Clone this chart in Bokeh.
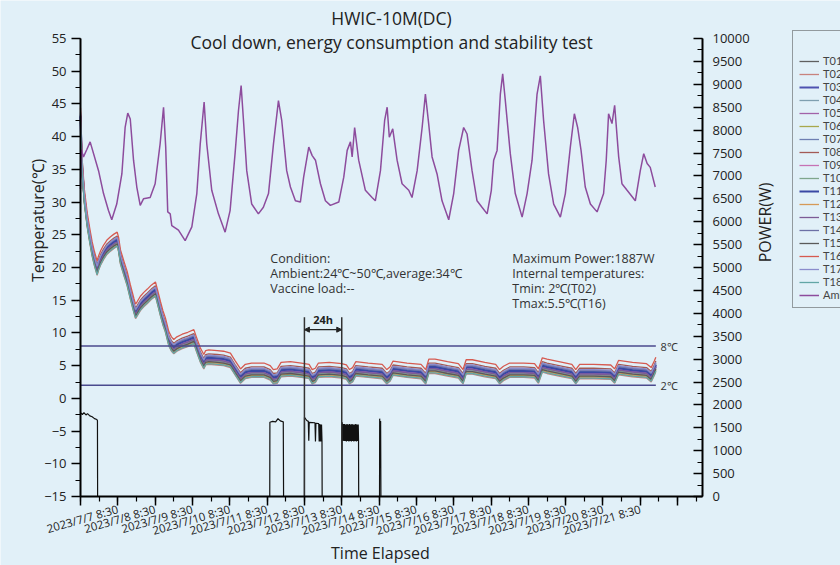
import math
from bokeh.plotting import figure
from bokeh.models import (Range1d, LinearAxis, SingleIntervalTicker, Legend, LegendItem,
                          Arrow, NormalHead)
from bokeh.core.properties import value
from bokeh.embed import file_html
from bokeh.resources import INLINE

FONT = "Open Sans"
BG = "#e1f0f8"

# ---------------- data (hours elapsed from start) ----------------
x_tick_hours = [24, 48, 72, 96, 120, 144, 168, 192, 216, 240, 264, 288, 312, 336, 360]
x_tick_labels = ["2023/7/7 8:30", "2023/7/8 8:30", "2023/7/9 8:30", "2023/7/10 8:30",
                 "2023/7/11 8:30", "2023/7/12 8:30", "2023/7/13 8:30", "2023/7/14 8:30",
                 "2023/7/15 8:30", "2023/7/16 8:30", "2023/7/17 8:30", "2023/7/18 8:30",
                 "2023/7/19 8:30", "2023/7/20 8:30", "2023/7/21 8:30"]

# ambient temperature (degC)
amb_h = [0, 0.5, 1.9, 4.0, 6.2, 11.6, 14.8, 18.0, 20.1, 23.3, 26.6, 28.7, 30.4, 32.0, 34.1, 36.2,
         38.4, 40.5, 44.8, 48.0, 51.2, 53.4, 54.8, 56.1, 57.7, 58.7, 63.0, 67.3, 71.6, 74.8, 77.0,
         79.5, 81.2, 84.4, 88.7, 93.0, 96.2, 99.4, 101.6, 103.3, 104.8, 106.9, 110.1, 114.4, 117.6,
         120.9, 124.1, 127.3, 129.4, 132.6, 135.0, 138.2, 141.4, 143.5, 146.8, 149.0, 151.1, 154.3,
         157.5, 160.7, 166.1, 169.3, 171.5, 173.6, 174.7, 176.3, 178.9, 183.2, 187.5, 189.6, 192.9,
         195.6, 197.2, 198.6, 200.8, 203.6, 206.8, 211.1, 213.2, 216.5, 219.7, 221.8, 223.9, 226.1,
         229.3, 232.5, 236.8, 240.0, 243.2, 246.4, 248.6, 251.8, 255.0, 258.2, 261.5, 264.2, 265.7,
         267.9, 270.0, 271.5, 273.2, 276.4, 279.6, 284.0, 287.2, 290.4, 293.6, 295.7, 297.8, 301.0,
         304.3, 308.6, 311.8, 315.0, 317.6, 319.7, 321.9, 324.6, 327.9, 332.2, 336.4, 338.1, 339.6,
         341.8, 343.5, 346.1, 348.2, 351.5, 356.8, 360.0, 362.2, 364.4, 366.4, 369.6]
amb_t = [32.0, 38.0, 36.9, 38.0, 39.2, 34.8, 31.3, 28.7, 27.3, 29.7, 34.3, 41.4, 43.6, 42.7, 36.4, 32.3,
         29.5, 30.5, 30.7, 32.8, 38.9, 44.5, 38.4, 28.5, 28.2, 26.4, 25.7, 24.1, 26.2, 31.3, 38.9,
         45.3, 38.9, 31.8, 28.2, 25.4, 28.7, 37.4, 44.0, 47.8, 42.5, 34.8, 29.7, 28.2, 29.2,
         31.3, 38.9, 45.5, 42.5, 34.8, 32.3, 30.2, 30.0, 33.8, 38.4, 37.1, 36.4, 32.8,
         30.2, 29.5, 30.0, 33.8, 37.9, 39.2, 36.9, 41.4, 36.4, 31.8, 30.7, 30.2, 34.8,
         42.5, 44.5, 39.9, 41.2, 36.4, 32.8, 31.8, 30.7, 34.8, 41.4, 46.5, 42.0, 36.9,
         34.3, 30.2, 27.3, 31.3, 37.9, 41.4, 40.4, 34.8, 30.2, 29.2, 28.2, 31.8, 36.4,
         37.9, 46.5, 49.6, 45.5, 37.4, 31.3, 27.7, 31.3, 36.4, 46.5, 49.3, 42.5, 34.3,
         29.7, 27.7, 31.3, 38.4, 43.5, 41.4, 37.9, 32.3, 29.7, 28.5, 31.3, 36.4, 43.5,
         42.0, 44.8, 36.9, 32.8, 31.8, 30.2, 34.8, 37.4, 35.9, 35.3, 32.3]

# internal probe temperature, middle of the probe band (degC)
band_h = [0, 0.5, 1.1, 2.5, 4.3, 6, 7.5, 9, 10.7, 11.5, 13, 14.8, 17, 19.3, 21.5, 23.6, 24.5, 25.7,
          28, 30, 32, 34.3, 35.4, 36.5, 38.5, 40.7, 43, 45.5, 48.2, 49.5, 51.4, 53, 54.6, 56.8,
          58.5, 60, 62, 65.4, 69, 72.9, 74.5, 77.1, 79.3, 80.5, 82.5, 87.9, 92, 96.4, 99.6, 102.9,
          106, 110, 118, 122, 124, 126.5, 129, 135, 142, 147, 149, 151, 153, 160, 168, 171, 173,
          175, 177, 185, 194, 197, 199, 201, 210, 219, 222, 224, 228, 236, 243, 246, 248, 252,
          260, 267, 269.5, 272, 276, 285, 292, 294.5, 297, 300, 310, 316, 318.5, 321, 330, 341,
          343.5, 346, 355, 364, 367, 369, 370]
band_t = [43, 39, 35, 30.5, 27, 24.5, 22.5, 21, 19.6, 20.3, 21.2, 22, 22.8, 23.3, 23.7, 24.0, 23.2, 21.3,
          19.5, 18.0, 16.0, 13.9, 13.0, 13.4, 14.2, 14.8, 15.3, 15.9, 16.4, 15.2, 13.4, 12.0, 10.9, 8.8,
          8.0, 7.6, 8.0, 8.4, 8.7, 9.1, 8.0, 6.3, 5.3, 5.9, 6.0, 5.9, 5.8, 5.5, 4.3, 3.1,
          3.8, 4.0, 4.0, 3.6, 3.0, 3.1, 4.1, 4.2, 4.0, 3.8, 3.0, 3.2, 4.0, 4.1, 3.9, 3.7, 3.0,
          3.3, 4.2, 4.0, 3.8, 3.0, 3.4, 4.3, 4.0, 3.8, 3.0, 4.6, 4.6, 4.2, 3.9, 3.0, 4.5, 4.5,
          4.1, 3.8, 3.0, 3.5, 4.0, 4.0, 3.9, 3.1, 4.8, 4.6, 4.1, 3.8, 3.0, 3.8, 3.8, 3.7,
          3.1, 4.4, 4.1, 3.9, 3.3, 4.3, 4.9]

probe_names = ["T01", "T02", "T03", "T04", "T05", "T06", "T07", "T08", "T09",
               "T10", "T11", "T12", "T13", "T14", "T15", "T16", "T17", "T18"]
# each probe's offset from the band middle (degC)
probe_offset = [0.2, -0.8, 0.0, 0.3, -0.3, -0.5, 0.4, 0.8, 0.1,
                -0.2, 0.2, -0.6, -0.1, 0.5, -0.4, 1.4, 0.6, -0.7]

# power (W)
power_h = [0, 1.2, 2.2, 3.5, 4.5, 6, 7.5, 9, 10.5, 10.9, 11.0,
           121.7, 121.8, 123.5, 125.5, 127, 128.5, 130.4, 130.6,
           144, 144.05, 145.5, 146.5, 146.8, 147.1, 150.8, 151.1, 151.4, 153.2, 153.5, 153.8,
           154.1, 154.4, 154.7, 155.0, 155.3, 155.4,
           168.2, 168.3, 168.6, 169.0, 169.4, 169.8, 170.2, 170.6, 171.0, 171.4, 171.8, 172.2,
           172.6, 173.0, 173.4, 173.8, 174.2, 174.6, 175.0, 175.4, 175.8, 176.2, 176.6, 177.0,
           177.4, 177.8, 178.2, 178.6, 178.8, 178.9,
           192.3, 192.4, 192.8, 193.0, 193.2, 370]
power_w = [1830, 1790, 1830, 1780, 1810, 1760, 1740, 1700, 1680, 1660, 0,
           0, 1620, 1640, 1630, 1700, 1650, 1630, 0,
           0, 1730, 1660, 1640, 1220, 1620, 1610, 1200, 1600, 1590, 1200, 1580,
           1200, 1570, 1200, 1570, 1210, 0,
           0, 1620, 1220, 1580, 1210, 1580, 1210, 1570, 1200, 1580, 1210, 1570,
           1200, 1580, 1210, 1570, 1200, 1580, 1210, 1570, 1200, 1570, 1210, 1580,
           1200, 1570, 1210, 1570, 1220, 0,
           0, 1700, 1250, 1650, 0, 0]

limit_high = 8
limit_low = 2
span_start_h = 144
span_end_h = 168

probe_colors = ["#5f5f5f", "#c8837d", "#4e52b0", "#7f9fb0", "#a262a8", "#a8a84c",
                "#6e7fb2", "#a35a55", "#c672b4", "#7fa68c", "#3a48a4", "#d69a58",
                "#7d5b96", "#6c70a6", "#5a5a5a", "#d65a50", "#8a8ccc", "#62a6a6"]
probe_widths = [1.3, 1.3, 2.0, 1.3, 1.3, 1.3, 1.3, 1.3, 1.3,
                1.3, 2.0, 1.3, 1.3, 1.3, 1.3, 1.3, 1.3, 1.3]
amb_color = "#8d4c9d"

# ---------------- figure ----------------
# The frame covers the whole canvas; the three axes sit at fixed data locations.
PX_H = 622 / 400        # pixels per hour
PX_T = 458 / 70         # pixels per degC
PX_W = 458 / 10000      # pixels per watt
X_START = -80 / PX_H
X_END = 400 + 138 / PX_H
Y_START = -15 - 69 / PX_T
Y_END = 55 + 38 / PX_T
P_START = -69 / PX_W
P_END = 10000 + 38 / PX_W

p = figure(width=840, height=565, x_range=Range1d(X_START, X_END), y_range=Range1d(Y_START, Y_END),
           output_backend="svg", toolbar_location=None, min_border=0,
           min_border_left=0, min_border_right=0, min_border_top=0, min_border_bottom=0,
           background_fill_color=BG, border_fill_color=BG, outline_line_color=None)
p.extra_y_ranges = {"power": Range1d(P_START, P_END)}
p.xgrid.visible = False
p.ygrid.visible = False

for ax in (p.xaxis[0], p.yaxis[0]):
    ax.axis_line_width = 2
    ax.axis_line_color = "black"
    ax.major_tick_line_width = 1.5
    ax.minor_tick_line_width = 1.2
    ax.major_tick_out = 9
    ax.major_tick_in = 0
    ax.minor_tick_out = 5
    ax.minor_tick_in = 0
    ax.major_label_text_font = FONT
    ax.major_label_text_color = "#222222"

p.yaxis.fixed_location = 0
p.yaxis.ticker = SingleIntervalTicker(interval=5, num_minor_ticks=2)
p.yaxis.bounds = (-15, 55)
p.yaxis.major_label_text_font_size = "13px"
p.yaxis.major_label_standoff = 5

p.xaxis.fixed_location = -15
p.xaxis.ticker = SingleIntervalTicker(interval=24, num_minor_ticks=2)
p.xaxis.bounds = (0, 400)
overrides = {0: "", 384: ""}
for h, lab in zip(x_tick_hours, x_tick_labels):
    overrides[h] = lab
p.xaxis.major_label_overrides = overrides
p.xaxis.major_label_orientation = 0.28
p.xaxis.major_label_text_font_size = "11.5px"
p.xaxis.major_label_standoff = 3

rax = LinearAxis(y_range_name="power", fixed_location=400, bounds=(0, 10000),
                 ticker=SingleIntervalTicker(interval=500, num_minor_ticks=2),
                 axis_line_width=2, axis_line_color="black", major_tick_line_width=1.5,
                 minor_tick_line_width=1.2, major_tick_in=9, major_tick_out=0,
                 minor_tick_in=5, minor_tick_out=0, major_label_standoff=10,
                 major_label_text_font=FONT, major_label_text_font_size="13px",
                 major_label_text_color="#222222")
p.add_layout(rax, "right")

# ---------------- glyphs ----------------
items = []
for name, off, col, lw in zip(probe_names, probe_offset, probe_colors, probe_widths):
    ys = [t + off for t in band_t]
    r = p.line(band_h, ys, line_color=col, line_width=lw)
    items.append(LegendItem(label=name, renderers=[r]))

r_amb = p.line(amb_h, amb_t, line_color=amb_color, line_width=1.5)
items.append(LegendItem(label="Ambient", renderers=[r_amb]))

p.line(power_h, power_w, y_range_name="power", line_color="#111111", line_width=1.2)

# limit lines
lim_col = "#4a4a8e"
p.line([0, 370], [limit_high, limit_high], line_color=lim_col, line_width=1.4)
p.line([0, 370], [limit_low, limit_low], line_color=lim_col, line_width=1.4)
p.text(x=[373, 373], y=[limit_high, limit_low], text=["8℃", "2℃"], text_font=value(FONT),
       text_font_size="11px", text_align="left", text_baseline="middle", text_color="#333333")

# 24h span annotation
p.segment(x0=[span_start_h, span_end_h], y0=[-15, -15], x1=[span_start_h, span_end_h], y1=[12.4, 12.4],
          line_color="#333333", line_width=1.5)
p.add_layout(Arrow(x_start=span_start_h, y_start=10.5, x_end=span_end_h, y_end=10.5,
                   line_color="#222222", line_width=1.2,
                   start=NormalHead(size=5, fill_color="#222222", line_color="#222222"),
                   end=NormalHead(size=5, fill_color="#222222", line_color="#222222")))
p.text(x=[(span_start_h + span_end_h) / 2], y=[12.0], text=["24h"], text_font=value(FONT),
       text_font_size="11px", text_font_style="bold", text_align="center", text_baseline="middle",
       text_color="#222222")

# notes
note_left = ["Condition:", "Ambient:24℃~50℃,average:34℃", "Vaccine load:--"]
note_right = ["Maximum Power:1887W", "Internal temperatures:", "Tmin: 2℃(T02)", "Tmax:5.5℃(T16)"]
p.text(x=[122.1] * 3, y=[21.4, 19.1, 16.8], text=note_left, text_font=value(FONT),
       text_font_size="12.5px", text_align="left", text_baseline="middle", text_color="#333333")
p.text(x=[277.7] * 4, y=[21.4, 19.1, 16.8, 14.5], text=note_right, text_font=value(FONT),
       text_font_size="12.5px", text_align="left", text_baseline="middle", text_color="#333333")

# titles and axis titles
p.text(x=[200, 200], y=[58.06, 54.39],
       text=["HWIC-10M(DC)", "Cool down, energy consumption and stability test"],
       text_font=value(FONT), text_font_size="17.5px", text_align="center",
       text_baseline="middle", text_color="#222222")
p.text(x=[-27.65, 440.5], y=[27.2, 26.9], text=["Temperature(℃)", "POWER(W)"], angle=math.pi / 2,
       text_font=value(FONT), text_font_size="16px", text_align="center",
       text_baseline="middle", text_color="#222222")
p.text(x=[192.9], y=[-23.71], text=["Time Elapsed"], text_font=value(FONT), text_font_size="16px",
       text_align="center", text_baseline="middle", text_color="#222222")

legend = Legend(items=items, location=(792, 257), title=" ", title_text_font="Lato",
                title_text_font_size="11px", title_standoff=4, padding=6, spacing=0,
                label_height=12, glyph_height=12, glyph_width=20, label_standoff=4,
                label_text_font="Lato", label_text_font_size="11px",
                border_line_color="#444444", border_line_width=1.3,
                background_fill_color=BG, background_fill_alpha=1.0, margin=0)
p.add_layout(legend, "center")

open("out.html", "w").write(file_html(p, INLINE))
